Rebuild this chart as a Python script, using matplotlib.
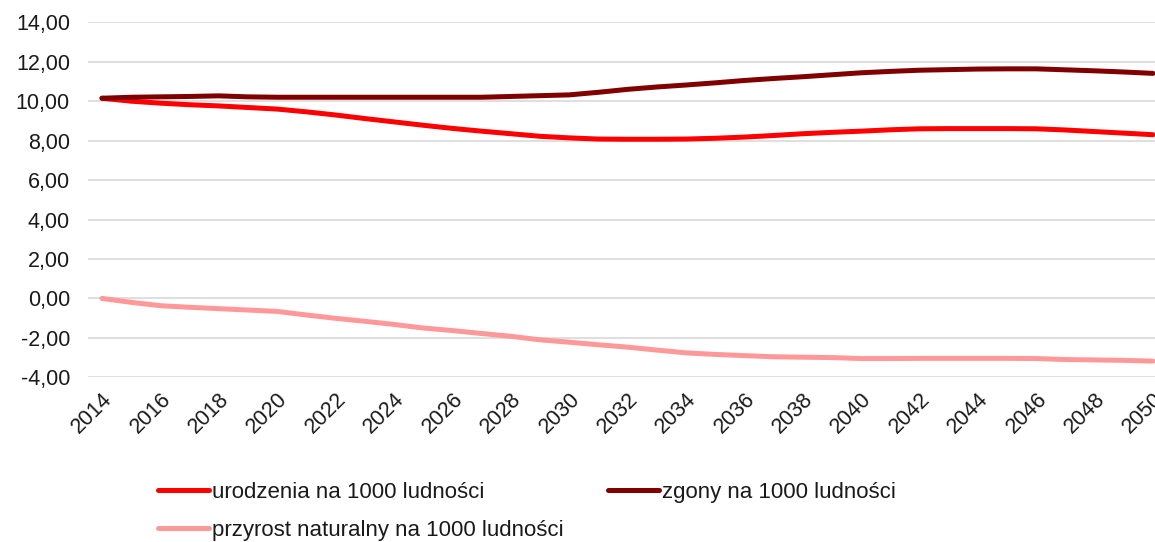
import matplotlib
matplotlib.use("Agg")
import matplotlib.pyplot as plt
from matplotlib.ticker import FuncFormatter, MultipleLocator

years = list(range(2014, 2051))

urodzenia = [10.15, 10.00, 9.90, 9.82, 9.76, 9.68, 9.60, 9.46, 9.30, 9.12,
             8.95, 8.78, 8.62, 8.48, 8.35, 8.22, 8.14, 8.08, 8.07, 8.07,
             8.08, 8.12, 8.18, 8.26, 8.35, 8.42, 8.48, 8.55, 8.60, 8.61,
             8.61, 8.61, 8.60, 8.54, 8.46, 8.38, 8.30]

zgony = [10.15, 10.20, 10.22, 10.24, 10.27, 10.22, 10.20, 10.20, 10.20, 10.20,
         10.20, 10.20, 10.20, 10.20, 10.24, 10.28, 10.32, 10.45, 10.60, 10.72,
         10.82, 10.93, 11.05, 11.15, 11.24, 11.34, 11.44, 11.51, 11.57, 11.60,
         11.63, 11.64, 11.64, 11.59, 11.54, 11.48, 11.41]

przyrost = [0.00, -0.20, -0.37, -0.45, -0.52, -0.59, -0.66, -0.84, -1.01, -1.16,
            -1.32, -1.50, -1.63, -1.78, -1.92, -2.10, -2.22, -2.35, -2.47, -2.62,
            -2.76, -2.84, -2.90, -2.96, -2.98, -3.00, -3.05, -3.05, -3.04, -3.04,
            -3.04, -3.04, -3.05, -3.10, -3.12, -3.14, -3.18]

labels = ["urodzenia na 1000 ludności", "zgony na 1000 ludności",
          "przyrost naturalny na 1000 ludności"]
colors = ["#FF0000", "#800000", "#FF9999"]

plt.rcParams['font.family'] = ['Liberation Sans', 'DejaVu Sans']

fig = plt.figure(figsize=(11.55, 5.42), dpi=100)
ax = fig.add_axes([88/1155, 1 - 377.3/542, 1 - 88/1155, (377.3 - 22.3)/542])

h1, = ax.plot(years, urodzenia, color=colors[0], lw=3.6, solid_capstyle='round')
h2, = ax.plot(years, zgony, color=colors[1], lw=3.6, solid_capstyle='round')
h3, = ax.plot(years, przyrost, color=colors[2], lw=3.6, solid_capstyle='round')

ax.set_ylim(-4, 14)
ax.set_xlim(2014 - 14/29.19, 2050 + 2/29.19)
ax.yaxis.set_major_locator(MultipleLocator(2))
ax.yaxis.set_major_formatter(FuncFormatter(lambda v, p: f"{v:.2f}".replace(".", ",")))
ax.set_xticks(years[::2])
ax.set_xticklabels([str(y) for y in years[::2]], rotation=45, ha='right',
                   rotation_mode='anchor')
ax.tick_params(axis='both', length=0, labelsize=15.5, colors='#1a1a1a')
ax.tick_params(axis='y', pad=13)
ax.tick_params(axis='x', pad=8)
ax.grid(axis='y', color='#D9D9D9', lw=1.2)
ax.set_axisbelow(True)
for s in ax.spines.values():
    s.set_visible(False)

# column-first fill: col 1 = urodzenia, przyrost; col 2 = zgony
handles = [h1, h3, h2]
leg_labels = [labels[0], labels[2], labels[1]]
leg = fig.legend(handles, leg_labels, loc='upper left', bbox_to_anchor=(158/1155, 1 - 482/542),
                 ncol=2, frameon=False, fontsize=16, handlelength=2.3,
                 handletextpad=0.12, columnspacing=2.0, labelspacing=0.75,
                 borderpad=0, borderaxespad=0)
for t in leg.get_texts():
    t.set_color('#1a1a1a')

fig.savefig("out.png", dpi=100)
